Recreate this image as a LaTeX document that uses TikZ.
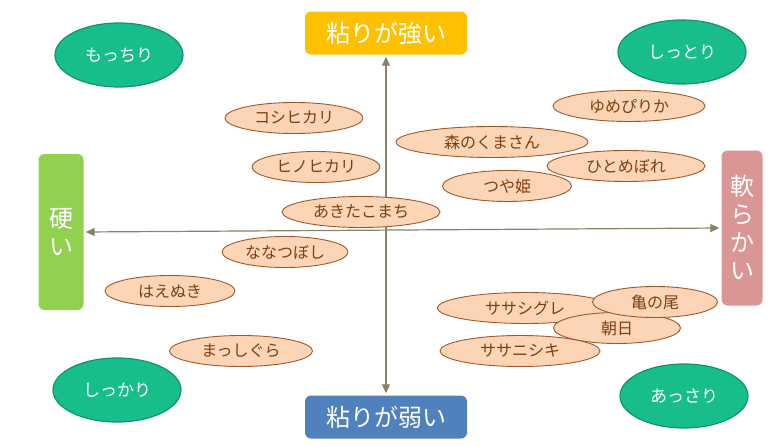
\documentclass[tikz,border=0pt]{standalone}
\usepackage{fontspec}
\setmainfont{Noto Sans CJK JP}
\usetikzlibrary{arrows.meta, shapes.geometric, positioning}
\definecolor{riceFill}{HTML}{FBD5B5}
\definecolor{riceLine}{HTML}{A0582A}
\definecolor{riceText}{HTML}{7E3F10}
\definecolor{axGold}{HTML}{FFC000}
\definecolor{axBlue}{HTML}{4F81BD}
\definecolor{axGreen}{HTML}{92D050}
\definecolor{axRose}{HTML}{D99694}
\definecolor{axLine}{HTML}{8A8262}
\definecolor{texTeal}{HTML}{17BE8C}
\definecolor{texTealDk}{HTML}{0F946C}
\tikzset{
  axisline/.style = {{Triangle[length=9pt,width=8pt]}-{Triangle[length=9pt,width=8pt]},
                     line width=1.2pt, axLine, shorten <=2pt, shorten >=2pt},
  axbox/.style    = {rounded corners=6pt, inner sep=0pt, text=white, align=center,
                     font=\fontsize{24}{28}\selectfont},
  rice/.style     = {ellipse, draw=riceLine, fill=riceFill, line width=0.9pt, inner sep=0pt,
                     minimum height=31pt, text=riceText, font=\fontsize{16}{19}\selectfont},
  texture/.style  = {ellipse, draw=texTealDk, fill=texTeal, line width=1.2pt, inner sep=0pt,
                     minimum width=128pt, minimum height=64pt, text=white,
                     font=\fontsize{17}{20}\selectfont},
}

\begin{document}
\begin{tikzpicture}[x=1pt, y=-1pt]
\useasboundingbox (0,0) rectangle (780,447);

% ---- axis labels ------------------------------------------------------------
\node[axbox, fill=axGold, minimum width=162pt, minimum height=43pt] (strong) at (386,33) {粘りが強い};
\node[axbox, fill=axBlue, minimum width=162pt, minimum height=43pt] (weak) at (386,417) {粘りが弱い};
\node[axbox, fill=axGreen, minimum width=45pt, minimum height=156pt] (hard) at (61,232) {硬\\い};
\node[axbox, fill=axRose, minimum width=41pt, minimum height=155pt] (soft) at (742,228) {軟\\ら\\か\\い};

% ---- axes -------------------------------------------------------------------
\draw[axisline] (weak.north) -- (strong.south);
\draw[axisline] (hard.east) -- (soft.west);

% ---- texture in the corners -------------------------------------------------
\node[texture] (mochi)    at (119,55)  {もっちり};
\node[texture] (shittori) at (682,52)  {しっとり};
\node[texture] (shikkari) at (117,390) {しっかり};
\node[texture] (assari)   at (684,396) {あっさり};

% ---- rice varieties ---------------------------------------------------------
\foreach \nm/\x/\y/\w/\txt in {
    koshi/294/118/138/コシヒカリ,
    hino/316/167/128/ヒノヒカリ,
    akita/361/212/158/あきたこまち,
    yume/629/106/152/ゆめぴりか,
    mori/492/142/192/森のくまさん,
    tsuya/507/186/129/つや姫,
    hitome/626/166/158/ひとめぼれ,
    nanatsu/285/252/126/ななつぼし,
    haenu/170/291/130/はえぬき,
    masshi/241/351/143/まっしぐら,
    sasashi/525/308/175/ササシグレ,
    asahi/617/328/127/朝日,
    kame/655/302/125/亀の尾,
    sasani/520/351/160/ササニシキ} {
  \node[rice, minimum width=\w pt] (\nm) at (\x,\y) {\txt};
}

\end{tikzpicture}
\end{document}
